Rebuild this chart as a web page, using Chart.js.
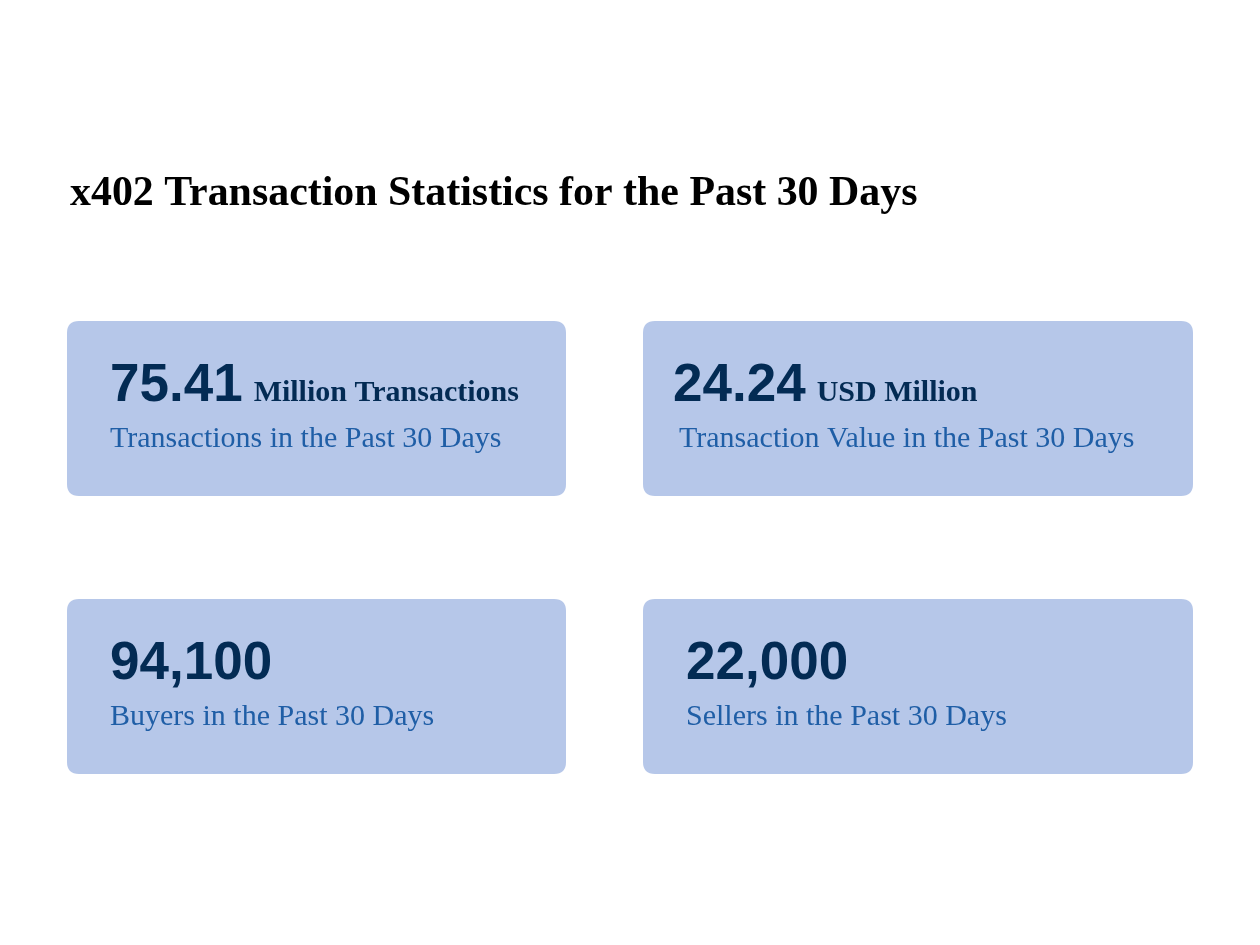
<!DOCTYPE html>
<html>
<head>
<meta charset="utf-8">
<script src="https://cdn.jsdelivr.net/npm/chart.js@4"></script>
<style>
  html, body { margin: 0; padding: 0; background: #ffffff; }
  #wrap { width: 1260px; height: 945px; }
</style>
</head>
<body>
<div id="wrap"><canvas id="c" width="1260" height="945"></canvas></div>
<script>
// ---- data ----
const chartTitle = "x402 Transaction Statistics for the Past 30 Days";
const kpiValues = ["75.41", "24.24", "94,100", "22,000"];
const kpiUnits = ["Million Transactions", "USD Million", "", ""];
const kpiLabels = [
  "Transactions in the Past 30 Days",
  "Transaction Value in the Past 30 Days",
  "Buyers in the Past 30 Days",
  "Sellers in the Past 30 Days"
];

// ---- layout (in page-pixel units, mapped through hidden linear scales) ----
const cardBoxes = [
  { x: 67,  y: 321, w: 499, h: 175, numX: 110, subX: 110 },
  { x: 643, y: 321, w: 550, h: 175, numX: 673, subX: 679 },
  { x: 67,  y: 599, w: 499, h: 175, numX: 110, subX: 110 },
  { x: 643, y: 599, w: 550, h: 175, numX: 686, subX: 686 }
];

const cardColor = "#b6c7e9";
const numColor = "#032b54";
const subColor = "#1f5ea6";

function roundRect(ctx, x, y, w, h, r) {
  ctx.beginPath();
  ctx.moveTo(x + r, y);
  ctx.lineTo(x + w - r, y);
  ctx.quadraticCurveTo(x + w, y, x + w, y + r);
  ctx.lineTo(x + w, y + h - r);
  ctx.quadraticCurveTo(x + w, y + h, x + w - r, y + h);
  ctx.lineTo(x + r, y + h);
  ctx.quadraticCurveTo(x, y + h, x, y + h - r);
  ctx.lineTo(x, y + r);
  ctx.quadraticCurveTo(x, y, x + r, y);
  ctx.closePath();
}

const kpiPlugin = {
  id: "kpiCards",
  afterDraw(chart) {
    const ctx = chart.ctx;
    const sx = chart.scales.x, sy = chart.scales.y;
    const px = v => sx.getPixelForValue(v);
    const py = v => sy.getPixelForValue(v);
    ctx.save();
    // title
    ctx.fillStyle = "#000000";
    ctx.textBaseline = "alphabetic";
    ctx.textAlign = "left";
    ctx.font = "bold 41.9px 'Liberation Serif', 'Times New Roman', serif";
    ctx.fillText(chartTitle, px(70), py(205));

    kpiValues.forEach((val, i) => {
      const b = cardBoxes[i];
      const x0 = px(b.x), y0 = py(b.y);
      const w = px(b.x + b.w) - x0, h = py(b.y + b.h) - y0;
      ctx.fillStyle = cardColor;
      roundRect(ctx, x0, y0, w, h, 12);
      ctx.fill();

      // big number
      ctx.fillStyle = numColor;
      ctx.font = "bold 53px 'Liberation Sans', Arial, sans-serif";
      const nx = px(b.numX), ny = py(b.y + 80);
      ctx.fillText(val, nx, ny);
      const nw = ctx.measureText(val).width;
      if (kpiUnits[i]) {
        ctx.font = "bold 30px 'Liberation Serif', 'Times New Roman', serif";
        ctx.fillText(kpiUnits[i], nx + nw + 11, ny);
      }
      // subtitle
      ctx.fillStyle = subColor;
      ctx.font = "30px 'Liberation Serif', 'Times New Roman', serif";
      ctx.fillText(kpiLabels[i], px(b.subX), py(b.y + 125.5));
    });
    ctx.restore();
  }
};

new Chart(document.getElementById("c"), {
  type: "scatter",
  data: { datasets: [{ data: [], showLine: false }] },
  options: {
    responsive: false,
    animation: false,
    layout: { padding: 0 },
    plugins: { legend: { display: false }, tooltip: { enabled: false }, title: { display: false } },
    scales: {
      x: { type: "linear", min: 0, max: 1260, display: false },
      y: { type: "linear", min: 0, max: 945, reverse: true, display: false }
    }
  },
  plugins: [kpiPlugin]
});
</script>
</body>
</html>
